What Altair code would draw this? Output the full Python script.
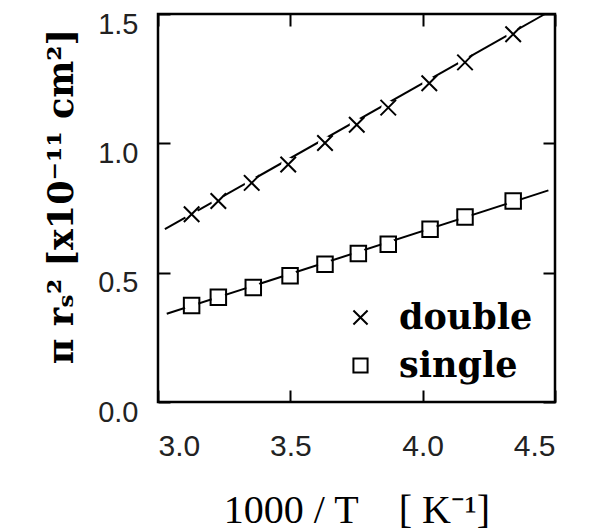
import altair as alt
import pandas as pd

# data
x_double = [3.127, 3.228, 3.354, 3.492, 3.631, 3.751, 3.870, 4.025, 4.160, 4.342]
y_double = [0.726, 0.777, 0.847, 0.918, 1.001, 1.072, 1.138, 1.232, 1.313, 1.422]
x_single = [3.127, 3.228, 3.360, 3.499, 3.631, 3.757, 3.870, 4.028, 4.160, 4.342]
y_single = [0.373, 0.405, 0.443, 0.488, 0.533, 0.574, 0.610, 0.668, 0.715, 0.777]

# fitted straight lines (end points)
fit_x_double = [3.026, 4.462]
fit_y_double = [0.668, 1.500]
fit_x_single = [3.033, 4.475]
fit_y_single = [0.341, 0.818]

series = ["double", "single"]
x_domain = [3.0, 4.5]
y_domain = [0.0, 1.5]
x_ticks = [3.0, 3.5, 4.0, 4.5]
y_ticks = [0.0, 0.5, 1.0, 1.5]

pts = pd.DataFrame(
    {"x": x_double + x_single,
     "y": y_double + y_single,
     "series": ["double"] * len(x_double) + ["single"] * len(x_single)}
)
fits = pd.DataFrame(
    {"x": fit_x_double + fit_x_single,
     "y": fit_y_double + fit_y_single,
     "series": ["double"] * 2 + ["single"] * 2}
)
frame = pd.DataFrame({"x0": [x_domain[0]], "x1": [x_domain[1]],
                      "y0": [y_domain[0]], "y1": [y_domain[1]]})

W, H = 397, 388
xs = alt.Scale(domain=x_domain, nice=False, zero=False)
ys = alt.Scale(domain=y_domain, nice=False, zero=False)

x_axis = alt.Axis(
    values=x_ticks, format=".1f", domain=False, ticks=False,
    grid=True, gridColor="black", gridWidth=2, gridOpacity=1, gridDash=[12, H - 24, 12],
    labelFont="Liberation Sans", labelFontSize=30, labelColor="#222", labelPadding=29,
    title="1000 / T\u2003[ K⁻¹]", titleFont="Liberation Serif", titleFontSize=40,
    titleFontWeight="normal", titleColor="black", titleBaseline="alphabetic", titleY=120,
)
y_axis = alt.Axis(
    values=y_ticks, format=".1f", domain=False, ticks=False,
    grid=True, gridColor="black", gridWidth=2, gridOpacity=1, gridDash=[12, W - 24, 12],
    labelFont="Liberation Sans", labelFontSize=29, labelColor="#222", labelPadding=20,
    labelOffset=10,
    title="π rₛ² [x10⁻¹¹ cm²]", titleFont="DejaVu Serif", titleFontSize=35,
    titleFontWeight="bold", titleColor="black", titleBaseline="alphabetic",
    titleX=-86, titleY=182, titleAngle=-90,
)

cross = "M-1,-1L1,1M-1,1L1,-1"

lines = alt.Chart(fits).mark_line(color="black", strokeWidth=2).encode(
    x=alt.X("x:Q", scale=xs, axis=x_axis),
    y=alt.Y("y:Q", scale=ys, axis=y_axis),
    detail="series:N",
)

box = alt.Chart(frame).mark_rect(
    fillOpacity=0, stroke="black", strokeWidth=2.5, strokeOpacity=1
).encode(
    x=alt.X("x0:Q", scale=xs), x2="x1:Q",
    y=alt.Y("y0:Q", scale=ys), y2="y1:Q",
)

under = alt.Chart(pts).mark_circle(color="white", opacity=1, size=200).encode(
    x=alt.X("x:Q", scale=xs),
    y=alt.Y("y:Q", scale=ys),
)

points = alt.Chart(pts).mark_point(color="black", strokeWidth=2, size=240, opacity=1).encode(
    x=alt.X("x:Q", scale=xs),
    y=alt.Y("y:Q", scale=ys),
    shape=alt.Shape(
        "series:N",
        scale=alt.Scale(domain=series, range=[cross, "square"]),
        legend=alt.Legend(
            title=None, orient="none", legendX=185, legendY=286,
            labelFont="DejaVu Serif", labelFontWeight="bold", labelFontSize=35,
            labelColor="black", labelOffset=21, rowPadding=12, padding=0,
            symbolSize=200, symbolStrokeColor="black", symbolStrokeWidth=2,
            symbolOpacity=1,
        ),
    ),
)

chart = alt.layer(box, lines, under, points).properties(
    width=W, height=H, background="white",
    autosize=alt.AutoSizeParams(type="none"),
    padding={"left": 150, "top": 6, "right": 28, "bottom": 130},
).configure_view(stroke=None)

chart.save("out.html", embed_options={"renderer": "svg", "actions": False})
